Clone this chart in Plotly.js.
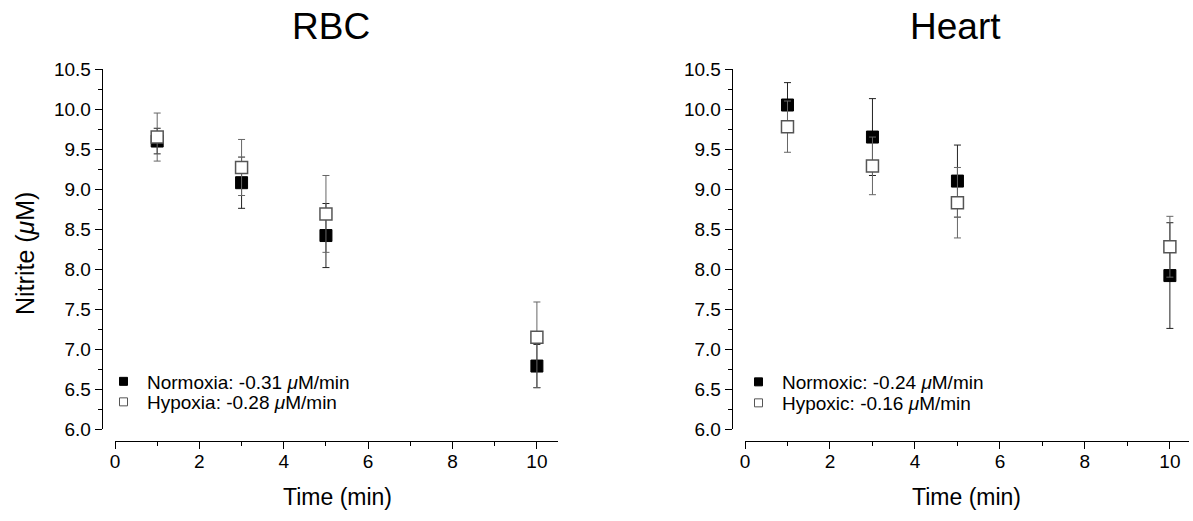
<!DOCTYPE html>
<html>
<head>
<meta charset="utf-8">
<script src="https://cdn.plot.ly/plotly-3.0.1.min.js"></script>
<style>html,body{margin:0;padding:0;background:#fff;}#chart{width:1193px;height:521px;}</style>
</head>
<body>
<div id="chart"></div>
<script>
// ---- data ----
const time = [1, 3, 5, 10];

const rbcNormoxia = [9.60, 9.08, 8.42, 6.79];
const rbcNormoxiaErr = [0.16, 0.32, 0.40, 0.27];
const rbcHypoxia = [9.65, 9.27, 8.69, 7.15];
const rbcHypoxiaErrPlus = [0.30, 0.35, 0.48, 0.44];
const rbcHypoxiaErrMinus = [0.30, 0.35, 0.48, 0.63];

const heartNormoxic = [10.05, 9.65, 9.10, 7.92];
const heartNormoxicErr = [0.28, 0.48, 0.45, 0.66];
const heartHypoxic = [9.78, 9.29, 8.83, 8.28];
const heartHypoxicErr = [0.32, 0.36, 0.44, 0.38];

const panelTitles = ["RBC", "Heart"];
const xTitle = "Time (min)";
const yTitle = "Nitrite (<i>μ</i>M)";
const legendLabels = [
  "Normoxia: -0.31 <i>μ</i>M/min",
  "Hypoxia: -0.28 <i>μ</i>M/min",
  "Normoxic: -0.24 <i>μ</i>M/min",
  "Hypoxic: -0.16 <i>μ</i>M/min"
];

// ---- helpers ----
const W = 1193, H = 521;
const px = v => v / W;
const py = v => 1 - v / H;
const FONT = "Liberation Sans, Arial, sans-serif";

const filled = {symbol: "square", size: 12, color: "#000", line: {color: "#000", width: 1}};
const open = {symbol: "square", size: 12, color: "#fff", line: {color: "#555", width: 1.5}};

function errBar(arr, color, minus) {
  const e = {type: "data", array: arr, color: color, thickness: 1, width: 3.5, visible: true};
  if (minus) { e.symmetric = false; e.arrayminus = minus; }
  return e;
}

const traces = [
  {x: time, y: rbcNormoxia, xaxis: "x", yaxis: "y", mode: "markers", marker: filled,
   error_y: errBar(rbcNormoxiaErr, "#222"), showlegend: false},
  {x: time, y: rbcHypoxia, xaxis: "x", yaxis: "y", mode: "markers", marker: open,
   error_y: errBar(rbcHypoxiaErrPlus, "#666", rbcHypoxiaErrMinus), showlegend: false},
  {x: time, y: heartNormoxic, xaxis: "x2", yaxis: "y2", mode: "markers", marker: filled,
   error_y: errBar(heartNormoxicErr, "#222"), showlegend: false},
  {x: time, y: heartHypoxic, xaxis: "x2", yaxis: "y2", mode: "markers", marker: open,
   error_y: errBar(heartHypoxicErr, "#666"), showlegend: false},
  // legend entries
  {x: [null], y: [null], xaxis: "x", yaxis: "y", mode: "markers", name: legendLabels[0], legend: "legend",
   marker: {symbol: "square", size: 8, color: "#000", line: {color: "#000", width: 1}}},
  {x: [null], y: [null], xaxis: "x", yaxis: "y", mode: "markers", name: legendLabels[1], legend: "legend2",
   marker: {symbol: "square", size: 8, color: "#fff", line: {color: "#555", width: 1}}},
  {x: [null], y: [null], xaxis: "x2", yaxis: "y2", mode: "markers", name: legendLabels[2], legend: "legend3",
   marker: {symbol: "square", size: 8, color: "#000", line: {color: "#000", width: 1}}},
  {x: [null], y: [null], xaxis: "x2", yaxis: "y2", mode: "markers", name: legendLabels[3], legend: "legend4",
   marker: {symbol: "square", size: 8, color: "#fff", line: {color: "#555", width: 1}}}
];

function xAxis(domain, range, pos) {
  return {
    domain: domain, range: range, anchor: "free", position: pos,
    showline: true, linecolor: "#000", linewidth: 1,
    showgrid: false, zeroline: false,
    tick0: 0, dtick: 2, ticks: "outside", ticklen: 7, tickwidth: 1, tickcolor: "#000",
    ticklabelstandoff: -4,
    minor: {dtick: 1, ticks: "outside", ticklen: 4, tickwidth: 1, tickcolor: "#000", showgrid: false},
    tickfont: {family: FONT, size: 19, color: "#000"}, fixedrange: true
  };
}
function yAxis(pos) {
  return {
    domain: [py(429.3), py(69)], range: [6, 10.5], anchor: "free", position: pos,
    showline: true, linecolor: "#000", linewidth: 1,
    showgrid: false, zeroline: false,
    tick0: 6, dtick: 0.5, tickformat: ".1f", ticks: "outside", ticklen: 7, tickwidth: 1, tickcolor: "#000",
    minor: {dtick: 0.25, ticks: "outside", ticklen: 4, tickwidth: 1, tickcolor: "#000", showgrid: false},
    tickfont: {family: FONT, size: 19, color: "#000"}, fixedrange: true
  };
}
function legendAt(xp, yp) {
  return {x: px(xp), y: py(yp), xanchor: "left", yanchor: "middle", bgcolor: "rgba(0,0,0,0)",
          borderwidth: 0, itemwidth: 37, font: {family: FONT, size: 19, color: "#000"}};
}

const ann = (text, x, y, size, angle) => ({
  text: text, xref: "paper", yref: "paper", x: px(x), y: py(y), xanchor: "center", yanchor: "middle",
  showarrow: false, textangle: angle || 0, font: {family: FONT, size: size, color: "#000"}
});

const layout = {
  width: W, height: H,
  margin: {l: 0, r: 0, t: 0, b: 0},
  paper_bgcolor: "#fff", plot_bgcolor: "#fff",
  xaxis: xAxis([px(115), px(558)], [0, 10.5], py(440.7)),
  yaxis: yAxis(px(101.7)),
  xaxis2: xAxis([px(745), px(1189)], [0, 10.45], py(440.7)),
  yaxis2: yAxis(px(731.7)),
  legend: legendAt(100, 381.5),
  legend2: legendAt(100, 402),
  legend3: legendAt(735, 382),
  legend4: legendAt(735, 403),
  annotations: [
    ann(panelTitles[0], 331, 26, 37),
    ann(panelTitles[1], 955, 26, 37),
    ann(xTitle, 337, 497, 23),
    ann(xTitle, 967, 497, 23),
    ann(yTitle, 25, 254, 25, -90)
  ]
};

Plotly.newPlot("chart", traces, layout, {displayModeBar: false, staticPlot: true});
</script>
</body>
</html>
